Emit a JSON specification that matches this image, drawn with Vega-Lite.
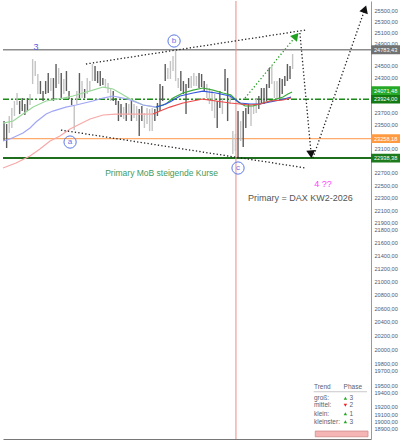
{
"$schema": "https://vega.github.io/schema/vega-lite/v6.json",
"width": 368, "height": 438, "padding": 0, "background": "white",
"config": {"view": {"stroke": null}, "font": "Liberation Sans", "text": {"font": "Liberation Sans"}},
"datasets": {
"bars": [
{"i":0,"v":23553,"l":23219,"d":1},{"i":1,"v":23503,"l":23103,"d":1},{"i":2,"v":23638,"l":23352,"d":0},{"i":3,"v":23773,"l":23436,"d":0},{"i":4,"v":23893,"l":23638,"d":0},{"i":5,"v":24030,"l":23825,"d":0},{"i":6,"v":23893,"l":23671,"d":1},{"i":7,"v":23944,"l":23722,"d":1},{"i":8,"v":23842,"l":23655,"d":1},{"i":9,"v":23944,"l":23722,"d":1},
{"i":10,"v":24013,"l":23825,"d":0},{"i":11,"v":24621,"l":24185,"d":0},{"i":12,"v":24586,"l":24324,"d":0},{"i":13,"v":24359,"l":24013,"d":0},{"i":14,"v":24237,"l":24013,"d":1},{"i":15,"v":24064,"l":23893,"d":1},{"i":16,"v":24237,"l":24013,"d":1},{"i":17,"v":24376,"l":24030,"d":1},{"i":18,"v":24289,"l":24064,"d":0},{"i":19,"v":24289,"l":23893,"d":1},
{"i":20,"v":24534,"l":24116,"d":1},{"i":21,"v":24464,"l":24185,"d":0},{"i":22,"v":24376,"l":23944,"d":1},{"i":23,"v":24272,"l":24013,"d":0},{"i":24,"v":24411,"l":24064,"d":1},{"i":25,"v":24064,"l":23927,"d":1},{"i":26,"v":23944,"l":23825,"d":1},{"i":27,"v":23808,"l":23402,"d":0},{"i":28,"v":24064,"l":23842,"d":0},{"i":29,"v":24376,"l":23944,"d":1},
{"i":30,"v":24237,"l":23944,"d":0},{"i":31,"v":24099,"l":23944,"d":1},{"i":32,"v":24289,"l":24013,"d":0},{"i":33,"v":24237,"l":24064,"d":0},{"i":34,"v":24534,"l":24237,"d":0},{"i":35,"v":24499,"l":24237,"d":1},{"i":36,"v":24411,"l":24202,"d":1},{"i":37,"v":24411,"l":24151,"d":1},{"i":38,"v":24289,"l":24168,"d":1},{"i":39,"v":24272,"l":24133,"d":0},
{"i":40,"v":24202,"l":24030,"d":0},{"i":41,"v":24116,"l":23893,"d":0},{"i":42,"v":24064,"l":23893,"d":1},{"i":43,"v":23944,"l":23825,"d":1},{"i":44,"v":23893,"l":23553,"d":1},{"i":45,"v":23842,"l":23621,"d":1},{"i":46,"v":23790,"l":23587,"d":0},{"i":47,"v":23859,"l":23553,"d":1},{"i":48,"v":23842,"l":23655,"d":0},{"i":49,"v":23893,"l":23553,"d":1},
{"i":50,"v":23842,"l":23604,"d":0},{"i":51,"v":23808,"l":23553,"d":0},{"i":52,"v":23756,"l":23302,"d":1},{"i":53,"v":23808,"l":23553,"d":1},{"i":54,"v":23688,"l":23436,"d":0},{"i":55,"v":23773,"l":23503,"d":0},{"i":56,"v":23756,"l":23385,"d":0},{"i":57,"v":23773,"l":23385,"d":0},{"i":58,"v":23756,"l":23553,"d":1},{"i":59,"v":23859,"l":23638,"d":1},
{"i":60,"v":24185,"l":23722,"d":1},{"i":61,"v":24151,"l":23893,"d":1},{"i":62,"v":24534,"l":24237,"d":1},{"i":63,"v":24464,"l":24272,"d":0},{"i":64,"v":24586,"l":24272,"d":0},{"i":65,"v":24675,"l":24411,"d":0},{"i":66,"v":24763,"l":24237,"d":0},{"i":67,"v":24289,"l":24116,"d":0},{"i":68,"v":24411,"l":24064,"d":1},{"i":69,"v":24237,"l":24013,"d":1},
{"i":70,"v":24185,"l":23671,"d":1},{"i":71,"v":24289,"l":24116,"d":1},{"i":72,"v":24324,"l":24116,"d":0},{"i":73,"v":24376,"l":24151,"d":0},{"i":74,"v":24324,"l":24151,"d":0},{"i":75,"v":24376,"l":24116,"d":1},{"i":76,"v":24359,"l":24133,"d":1},{"i":77,"v":24237,"l":24064,"d":1},{"i":78,"v":24185,"l":23944,"d":0},{"i":79,"v":24116,"l":23842,"d":0},
{"i":80,"v":24064,"l":23722,"d":0},{"i":81,"v":24013,"l":23604,"d":0},{"i":82,"v":23893,"l":23436,"d":1},{"i":83,"v":24064,"l":23773,"d":1},{"i":84,"v":23944,"l":23671,"d":0},{"i":85,"v":24446,"l":24064,"d":1},{"i":86,"v":24289,"l":23553,"d":1},{"i":87,"v":24013,"l":23842,"d":0},{"i":88,"v":23385,"l":23004,"d":0},{"i":89,"v":23335,"l":23053,"d":0},
{"i":90,"v":23722,"l":22938,"d":1},{"i":91,"v":23553,"l":23219,"d":0},{"i":92,"v":23722,"l":23120,"d":1},{"i":93,"v":23773,"l":23436,"d":1},{"i":94,"v":23842,"l":23671,"d":1},{"i":95,"v":23808,"l":23469,"d":0},{"i":96,"v":23842,"l":23671,"d":0},{"i":97,"v":23927,"l":23688,"d":0},{"i":98,"v":23979,"l":23756,"d":1},{"i":99,"v":24116,"l":23859,"d":1},
{"i":100,"v":24116,"l":23842,"d":1},{"i":101,"v":24185,"l":23893,"d":1},{"i":102,"v":24464,"l":24116,"d":1},{"i":103,"v":24499,"l":24185,"d":0},{"i":104,"v":24237,"l":23944,"d":0},{"i":105,"v":24237,"l":23893,"d":0},{"i":106,"v":24289,"l":23944,"d":1},{"i":107,"v":24272,"l":24013,"d":1},{"i":108,"v":24324,"l":24151,"d":1},{"i":109,"v":24534,"l":24237,"d":1},
{"i":110,"v":24499,"l":24272,"d":1},{"i":111,"v":24710,"l":24446,"d":0}
],
"ma": [
{"s":"g0","i":-0.4,"v":23519},{"s":"g0","i":3.5,"v":23553},{"s":"g0","i":7.3,"v":23671},{"s":"g0","i":11.2,"v":23790},{"s":"g0","i":16.2,"v":23893},{"s":"g0","i":22.7,"v":23944},{"s":"g0","i":26.5,"v":23979},{"s":"g0","i":30.4,"v":24030},{"s":"g0","i":34.2,"v":24081},{"s":"g0","i":38.1,"v":24133},{"s":"g0","i":41.9,"v":24099},{"s":"g0","i":44.6,"v":24030},{"s":"g0","i":48.5,"v":23927},{"s":"g0","i":53.5,"v":23825},{"s":"g0","i":58.5,"v":23790},
{"s":"g1","i":58.5,"v":23790},{"s":"g1","i":62.3,"v":23842},{"s":"g1","i":65,"v":23944},{"s":"g1","i":68.8,"v":24030},{"s":"g1","i":72.7,"v":24081},{"s":"g1","i":76.5,"v":24116},{"s":"g1","i":80.4,"v":24081},{"s":"g1","i":84.2,"v":24030},{"s":"g1","i":87.3,"v":23996},{"s":"g1","i":90,"v":23876},{"s":"g1","i":92.7,"v":23808},{"s":"g1","i":95.8,"v":23808},{"s":"g1","i":99.6,"v":23859},{"s":"g1","i":103.5,"v":23910},{"s":"g1","i":107.3,"v":23961},{"s":"g1","i":109.2,"v":24013},{"s":"g1","i":110.8,"v":24047},
{"s":"b0","i":-0.4,"v":23219},{"s":"b0","i":2.3,"v":23252},{"s":"b0","i":7.3,"v":23352},{"s":"b0","i":10,"v":23436},{"s":"b0","i":12.3,"v":23536},{"s":"b0","i":16.2,"v":23671},{"s":"b0","i":18.8,"v":23722},{"s":"b0","i":23.8,"v":23790},{"s":"b0","i":27.7,"v":23825},{"s":"b0","i":34.2,"v":23893},{"s":"b0","i":38.1,"v":23944},{"s":"b0","i":41.9,"v":23979},{"s":"b0","i":45.8,"v":23944},{"s":"b0","i":48.5,"v":23910},{"s":"b0","i":53.5,"v":23825},{"s":"b0","i":58.5,"v":23790},
{"s":"b1","i":58.5,"v":23790},{"s":"b1","i":61.2,"v":23825},{"s":"b1","i":63.8,"v":23876},{"s":"b1","i":67.7,"v":23979},{"s":"b1","i":72.7,"v":24030},{"s":"b1","i":76.5,"v":24064},{"s":"b1","i":81.5,"v":24030},{"s":"b1","i":86.9,"v":23979},{"s":"b1","i":90.8,"v":23859},{"s":"b1","i":94.6,"v":23842},{"s":"b1","i":98.5,"v":23842},{"s":"b1","i":102.3,"v":23876},{"s":"b1","i":106.2,"v":23910},{"s":"b1","i":110.4,"v":23961},
{"s":"r0","i":-0.4,"v":22775},{"s":"r0","i":4.6,"v":22856},{"s":"r0","i":10,"v":22971},{"s":"r0","i":13.8,"v":23086},{"s":"r0","i":17.7,"v":23219},{"s":"r0","i":21.5,"v":23302},{"s":"r0","i":25.4,"v":23419},{"s":"r0","i":29.2,"v":23503},{"s":"r0","i":33.1,"v":23587},{"s":"r0","i":38.1,"v":23655},{"s":"r0","i":43.1,"v":23671},{"s":"r0","i":48.5,"v":23671},{"s":"r0","i":53.5,"v":23671},{"s":"r0","i":57.3,"v":23671},
{"s":"r1","i":57.3,"v":23671},{"s":"r1","i":60,"v":23722},{"s":"r1","i":63.8,"v":23790},{"s":"r1","i":68.8,"v":23859},{"s":"r1","i":76.5,"v":23927},{"s":"r1","i":81.5,"v":23893},{"s":"r1","i":86.9,"v":23859},{"s":"r1","i":90.8,"v":23842},{"s":"r1","i":94.6,"v":23825},{"s":"r1","i":98.5,"v":23842},{"s":"r1","i":102.3,"v":23893},{"s":"r1","i":107.3,"v":23910},{"s":"r1","i":110.4,"v":23944}
],
"boxes": [
{"i":141.15,"i2":153.6,"v":24864,"v2":24705,"k":"grey","p":24783.43,"t":"24783,43"},
{"i":141.15,"i2":153.6,"v":24146,"v2":23998,"k":"green","p":24071.48,"t":"24071,48"},
{"i":141.15,"i2":153.6,"v":23996,"v2":23850,"k":"dgreen","p":23924.00,"t":"23924,00"},
{"i":141.15,"i2":153.6,"v":23330,"v2":23188,"k":"orange","p":23258.18,"t":"23258,18"},
{"i":141.15,"i2":153.6,"v":23008,"v2":22867,"k":"dgreen2","p":22938.38,"t":"22938,38"}
]
},
"encoding": {
"x": {"field":"i","type":"quantitative","scale":{"domain":[-0.4,141.15],"nice":false,"zero":false},
 "axis":{"title":null,"labels":false,"ticks":false,"grid":false,"domain":true,"domainColor":"#777","domainWidth":1}},
"y": {"field":"v","type":"quantitative","scale":{"type":"log","domain":[18762,25665],"nice":false},
 "axis":{"orient":"right","title":null,"values":[25500,25300,25100,24900,24500,24300,23700,23500,23100,22700,22500,22300,22100,21900,21800,21600,21400,21200,21000,20800,20600,20400,20200,20000,19800,19700,19500,19400,19200,19100,19000,18900],
 "labelExpr":"replace(format(datum.value, '.2f'), '.', ',')","ticks":false,"grid":false,"domainColor":"#999","labelFontSize":5.6,"labelColor":"#4b5a78","labelPadding":3,"labelOverlap":false,"labelBound":false,"labelFont":"Liberation Sans"}}
},
"layer": [
{"data":{"values":[{"v":24783.43,"i":-0.4,"i2":141.15}]},"mark":{"type":"rule","color":"#8c8c8c","strokeWidth":1.5},"encoding":{"x2":{"field":"i2"}}},
{"data":{"values":[{"v":23258.18,"i":-0.4,"i2":141.15}]},"mark":{"type":"rule","color":"#ffab6e","strokeWidth":1.2},"encoding":{"x2":{"field":"i2"}}},
{"data":{"values":[{"v":22938.38,"i":-0.4,"i2":141.15}]},"mark":{"type":"rule","color":"#1e6e1e","strokeWidth":2},"encoding":{"x2":{"field":"i2"}}},
{"data":{"values":[{"v":23924,"i":-0.4,"i2":141.15}]},"mark":{"type":"rule","color":"#1b8a1b","strokeWidth":1.5,"strokeDash":[6,2,2,2]},"encoding":{"x2":{"field":"i2"}}},
{"data":{"values":[{"i":89.2,"v":25665,"l":18762}]},"mark":{"type":"rule","color":"#f08a8a","strokeWidth":1},"encoding":{"y2":{"field":"l"}}},
{"data":{"name":"bars"},"transform":[{"filter":"datum.d == 0"}],"mark":{"type":"rule","color":"#c4c4c4","strokeWidth":1.4},"encoding":{"y2":{"field":"l"}}},
{"data":{"name":"bars"},"transform":[{"filter":"datum.d == 1"}],"mark":{"type":"rule","color":"#5c5c5c","strokeWidth":1.4},"encoding":{"y2":{"field":"l"}}},
{"data":{"name":"ma"},"mark":{"type":"line","strokeWidth":1.2},"encoding":{"color":{"field":"s","type":"nominal","scale":{"domain":["g0","g1","b0","b1","r0","r1"],"range":["#9ad89a","#3aaa3a","#a0a6f5","#3355dd","#f7a8a8","#ee4a4a"]},"legend":null},"order":{"field":"i","type":"quantitative"}}},
{"data":{"values":[{"i":31.5,"v":24534,"i2":116.1,"v2":25138},{"i":21.9,"v":23402,"i2":116.1,"v2":22775},{"i":113.8,"v":25084,"i2":118.1,"v2":23020},{"i":118.8,"v":22938,"i2":138.8,"v2":25518}]},"mark":{"type":"rule","color":"#222","strokeWidth":1.3,"strokeDash":[1.3,2.2]},"encoding":{"x2":{"field":"i2"},"y2":{"field":"v2"}}},
{"data":{"values":[{"i":92.7,"v":23944,"i2":112.3,"v2":25030}]},"mark":{"type":"rule","color":"#2a9d2a","strokeWidth":1.3,"strokeDash":[1.3,2.2]},"encoding":{"x2":{"field":"i2"},"y2":{"field":"v2"}}},
{"data":{"values":[{"i":118.1,"v":23000}]},"mark":{"type":"point","shape":"triangle-up","angle":175,"filled":true,"color":"#111","size":80,"opacity":1}},
{"data":{"values":[{"i":138.8,"v":25518}]},"mark":{"type":"point","shape":"triangle-up","angle":19.5,"filled":true,"color":"#111","size":80,"opacity":1}},
{"data":{"values":[{"i":112.3,"v":25030}]},"mark":{"type":"point","shape":"triangle-up","angle":40,"filled":true,"color":"#22a022","size":80,"opacity":1}},
{"data":{"values":[{"i":25.4,"v":23202,"t":"a"},{"i":65.4,"v":24941,"t":"b"},{"i":90,"v":22775,"t":"c"}]},"layer":[
 {"mark":{"type":"point","shape":"circle","filled":false,"color":"#5a78e6","size":150,"strokeWidth":1,"opacity":1}},
 {"mark":{"type":"text","color":"#5a78e6","fontSize":8,"baseline":"middle","align":"center"},"encoding":{"text":{"field":"t"}}}
]},
{"data":{"values":[{"i":12.3,"v":24834,"t":"3"}]},"mark":{"type":"text","color":"#5560dd","fontSize":9,"baseline":"middle","align":"center"},"encoding":{"text":{"field":"t"}}},
{"data":{"values":[{"i":122.7,"v":22517,"t":"4 ??"}]},"mark":{"type":"text","color":"#ff40ff","fontSize":9,"baseline":"middle","align":"center"},"encoding":{"text":{"field":"t"}}},
{"data":{"values":[{"i":60.6,"v":22694,"t":"Primary MoB steigende Kurse"}]},"mark":{"type":"text","color":"#3f9a62","fontSize":8.5,"baseline":"middle","align":"center"},"encoding":{"text":{"field":"t"}}},
{"data":{"values":[{"i":114,"v":22295,"t":"Primary = DAX KW2-2026"}]},"mark":{"type":"text","color":"#555","fontSize":9,"baseline":"middle","align":"center"},"encoding":{"text":{"field":"t"}}},
{"data":{"name":"boxes"},"mark":{"type":"rect"},"encoding":{"x2":{"field":"i2"},"y2":{"field":"v2"},"fill":{"field":"k","type":"nominal","scale":{"domain":["grey","green","dgreen","orange","dgreen2"],"range":["#727272","#26a926","#137a13","#ff9a40","#1d7a1d"]},"legend":null}}},
{"data":{"name":"boxes"},"mark":{"type":"text","color":"white","fontSize":5.6,"baseline":"middle","align":"left","dx":3},"encoding":{"x":{"datum":141.15},"y":{"field":"p","type":"quantitative"},"text":{"field":"t"}}},
{"data":{"values":[{"i":119.1,"i2":139.6,"v":19407}]},"mark":{"type":"rule","color":"#c8c8c8","strokeWidth":1},"encoding":{"x2":{"field":"i2"}}},
{"data":{"values":[{"i":119.2,"v":19472,"t":"Trend"},{"i":130.6,"v":19472,"t":"Phase"},{"i":119.2,"v":19316,"t":"groß:"},{"i":119.2,"v":19219,"t":"mittel:"},{"i":119.2,"v":19104,"t":"klein:"},{"i":119.2,"v":18995,"t":"kleinster:"},{"i":132.9,"v":19316,"t":"3"},{"i":132.9,"v":19219,"t":"2"},{"i":132.9,"v":19104,"t":"1"},{"i":132.9,"v":18995,"t":"3"}]},"mark":{"type":"text","color":"#5a6070","fontSize":6.5,"baseline":"middle","align":"left"},"encoding":{"text":{"field":"t"}}},
{"data":{"values":[{"i":131.3,"v":19316},{"i":131.3,"v":19104},{"i":131.3,"v":18995}]},"mark":{"type":"point","shape":"triangle-up","filled":true,"color":"#22aa22","size":12,"opacity":1}},
{"data":{"values":[{"i":131.3,"v":19219}]},"mark":{"type":"point","shape":"triangle-down","filled":true,"color":"#ee2222","size":12,"opacity":1}},
{"data":{"values":[{"i":119.7,"i2":140,"v":18869,"v2":18792}]},"mark":{"type":"rect","fill":"#f5b5b5","stroke":"#d08a8a","strokeWidth":0.8},"encoding":{"x2":{"field":"i2"},"y2":{"field":"v2"}}}
]
}
